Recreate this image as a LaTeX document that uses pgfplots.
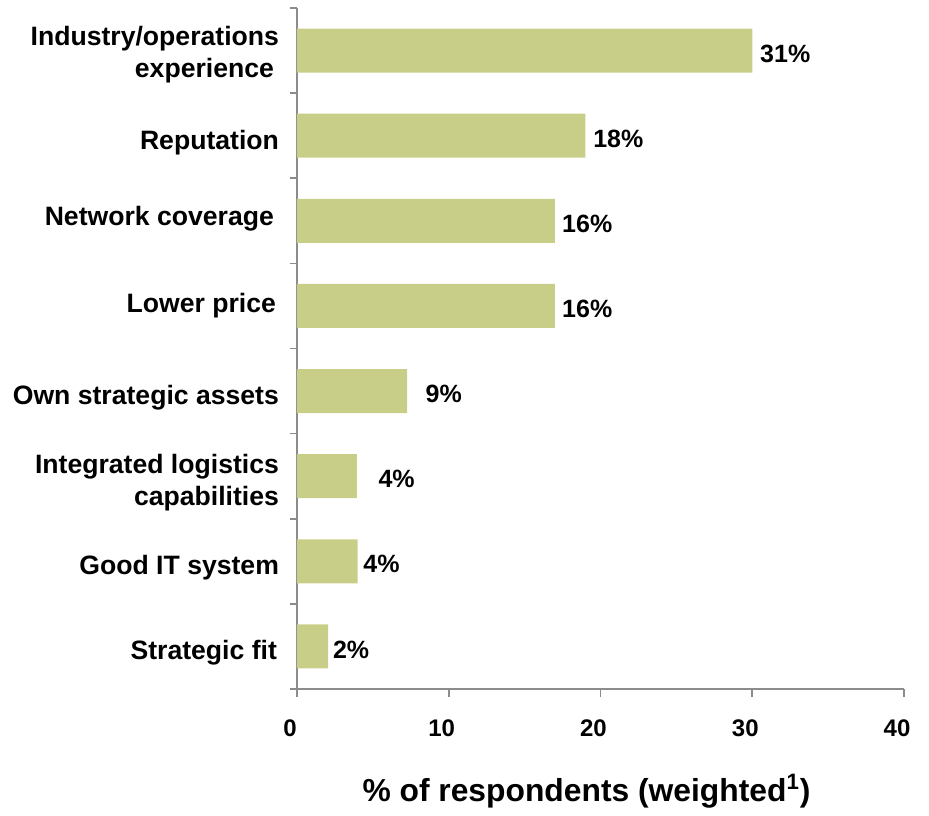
\documentclass[border=0pt]{standalone}
\usepackage{fontspec}
\setmainfont{Liberation Sans}
\usepackage{pgfplots}
\pgfplotsset{compat=1.18}
\definecolor{barfill}{RGB}{200,206,136}
\definecolor{axisgray}{RGB}{140,140,140}
\newcommand{\up}[2]{\raisebox{#1}[\height][\depth]{#2}}
\begin{document}
\begin{tikzpicture}
\begin{axis}[
    scale only axis,
    width=303.5pt, height=340.5pt,
    xmin=0, xmax=40, ymin=-0.5, ymax=7.5,
    axis x line*=bottom, axis y line*=left,
    axis line style={-, axisgray, line width=0.8pt},
    xtick={0,10,20,30,40},
    ytick={0,1,2,3,4,5,6,7},
    yticklabels={Strategic fit\kern1pt, Good IT system, {Integrated logistics\\capabilities}, Own strategic assets, \up{3.3pt}{Lower price\kern1.5pt}, \up{4.5pt}{Network coverage\kern2.5pt}, Reputation, {\up{1.5pt}{Industry/operations}\\\up{1pt}{experience\kern2.5pt}}},
    minor ytick={-0.5,0.5,1.5,2.5,3.5,4.5,5.5,6.5,7.5},
    tick align=outside,
    major tick length=4pt, minor tick length=3.5pt,
    major y tick style={draw=none},
    minor y tick style={axisgray, line width=0.8pt},
    x tick style={axisgray, line width=0.8pt},
    /pgf/number format/assume math mode=true,
    x tick label style={font=\bfseries\fontsize{12}{14}\selectfont, yshift=-8pt, xshift=-3.5pt},
    y tick label style={font=\bfseries\fontsize{13.3}{15.8}\selectfont, align=right, yshift=-3.3pt, xshift=-1.5pt},
    xlabel={\% of respondents (weighted\textsuperscript{1})},
    xlabel style={font=\bfseries\fontsize{15.9}{18}\selectfont, yshift=-11.5pt, xshift=-7pt},
]
\addplot[xbar, bar width=22pt, bar shift=0pt, fill=barfill, draw=none]
  coordinates {(30,7) (19,6) (17,5) (17,4) (7.25,3) (3.95,2) (4.0,1) (2.05,0)};
\addplot[draw=none, mark=none, nodes near coords, point meta=explicit symbolic,
  nodes near coords style={anchor=west, inner sep=0pt, yshift=-1.5pt, font=\bfseries\fontsize{12.5}{14}\selectfont}]
  coordinates {(30.5,7)[31\%] (19.5,6)[18\%] (17.45,5)[16\%] (17.45,4)[16\%]
               (8.45,3)[9\%] (5.35,2)[4\%] (4.35,1)[4\%] (2.35,0)[2\%]};
\end{axis}
\path ([shift={(-148.5pt,4pt)}]current axis.north west) rectangle ([shift={(12.5pt,-61pt)}]current axis.south east);
\end{tikzpicture}
\end{document}
